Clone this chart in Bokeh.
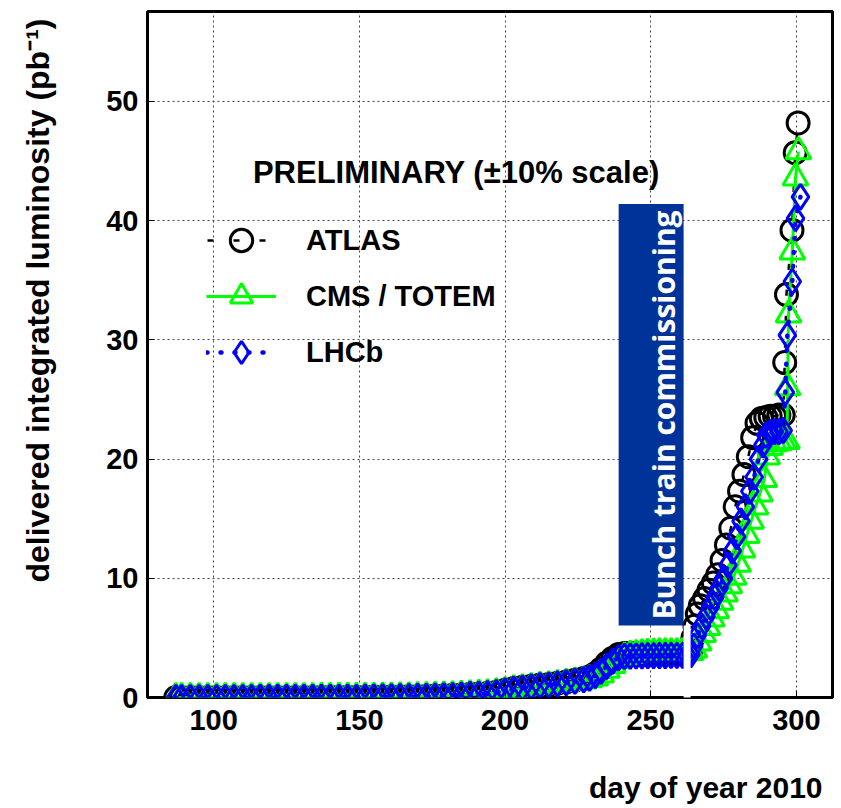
import math
from bokeh.plotting import figure
from bokeh.models import FixedTicker, Range1d, Label, BoxAnnotation, Legend, LegendItem, Title
from bokeh.embed import file_html
from bokeh.resources import INLINE

# ---------------- data ----------------
days_base = [87, 89, 92, 95, 98, 101, 104, 107, 110, 113, 116, 119, 122, 125, 128, 131,
             134, 137, 140, 143, 146, 149, 152, 155, 158, 161, 164, 167, 170, 173, 176,
             179, 182, 185, 188, 191, 194, 197,
             200, 203, 206, 209, 212, 215, 218, 221, 224, 227, 229, 231, 233, 235, 237, 239, 241,
             243, 245, 247, 249, 251, 253, 255, 257, 259, 261, 262.5]

atlas_base = [0.0, 0.0, 0.0, 0.0, 0.0, 0.0, 0.0, 0.0, 0.0, 0.0,
              0.01, 0.01, 0.01, 0.01, 0.01, 0.01, 0.01,
              0.02, 0.02, 0.02, 0.02, 0.02,
              0.03, 0.04, 0.05, 0.06, 0.07, 0.08, 0.09, 0.10, 0.12, 0.15, 0.18, 0.22, 0.27, 0.30, 0.35, 0.45,
              0.60, 0.75, 0.85, 0.95, 1.05, 1.10, 1.20, 1.30, 1.45, 1.60, 1.75, 2.00, 2.40, 2.90, 3.30, 3.60, 3.70,
              3.70, 3.70, 3.71, 3.71, 3.72, 3.72, 3.72, 3.73, 3.73, 3.73, 3.74]

cms_base = [0.0, 0.0, 0.0, 0.0, 0.0, 0.0, 0.0, 0.0, 0.0, 0.0,
            0.01, 0.01, 0.01, 0.01, 0.01, 0.01, 0.01,
            0.02, 0.02, 0.02, 0.02, 0.02,
            0.03, 0.03, 0.04, 0.05, 0.06, 0.07, 0.08, 0.09, 0.11, 0.13, 0.16, 0.20, 0.24, 0.27, 0.31, 0.40,
            0.50, 0.65, 0.75, 0.85, 0.95, 1.00, 1.10, 1.20, 1.30, 1.40, 1.50, 1.65, 1.90, 2.30, 2.70, 3.10, 3.40,
            3.55, 3.62, 3.68, 3.72, 3.74, 3.75, 3.75, 3.76, 3.76, 3.77, 3.77]

lhcb_base = [0.0, 0.0, 0.0, 0.0, 0.0, 0.0, 0.0, 0.0, 0.0, 0.0,
             0.01, 0.01, 0.01, 0.01, 0.01, 0.01, 0.01,
             0.02, 0.02, 0.02, 0.02, 0.02,
             0.03, 0.04, 0.05, 0.06, 0.07, 0.08, 0.09, 0.10, 0.12, 0.14, 0.17, 0.21, 0.26, 0.29, 0.33, 0.42,
             0.55, 0.70, 0.80, 0.90, 1.00, 1.05, 1.15, 1.25, 1.38, 1.50, 1.62, 1.85, 2.20, 2.65, 3.05, 3.35, 3.45,
             3.47, 3.48, 3.49, 3.50, 3.50, 3.51, 3.51, 3.52, 3.52, 3.53, 3.53]

atlas_tail_days = [263.8, 264.5, 265.2, 266.0, 267.0, 268.5, 270.0, 271.5, 273.0, 274.5, 276.0,
                   277.5, 279.0, 280.5, 282.0, 283.5, 285.0, 286.5, 288.0, 289.5, 291.0, 292.5,
                   294.0, 295.5, 296.0, 296.6, 298.5, 299.6, 300.6]
atlas_tail = [4.0, 5.0, 6.0, 7.0, 7.7, 8.3, 9.0, 9.6, 10.3, 11.5, 12.8, 14.2, 16.0, 17.3, 18.7,
              20.2, 21.8, 23.0, 23.4, 23.5, 23.6, 23.6, 23.7, 23.7, 28.1, 33.8, 39.2, 45.7, 48.2]

cms_tail_days = [263.8, 265.0, 266.5, 268.0, 269.5, 271.0, 272.5, 274.0, 275.5, 277.0, 278.5,
                 280.0, 281.5, 283.0, 284.5, 286.0, 287.5, 289.0, 290.0, 291.0, 292.5, 294.0,
                 295.5, 296.8, 297.0, 297.3, 298.6, 299.7, 300.7]
cms_tail = [3.8, 4.0, 4.6, 5.3, 5.9, 6.6, 7.3, 8.0, 8.7, 9.4, 10.1, 11.2, 12.4, 13.6, 14.8, 16.0,
            17.1, 18.3, 20.2, 21.0, 21.3, 21.4, 21.5, 21.5, 26.0, 32.1, 37.4, 43.6, 45.8]

lhcb_tail_days = [263.8, 264.8, 266.0, 267.5, 269.0, 270.5, 272.0, 273.5, 275.0, 276.5, 278.0,
                  279.5, 281.0, 282.5, 284.0, 285.5, 287.0, 288.5, 289.5, 291.0, 292.5, 294.0,
                  295.5, 296.2, 296.9, 298.6, 299.7, 301.4]
lhcb_tail = [3.6, 4.3, 5.2, 6.0, 6.8, 7.6, 8.4, 9.2, 10.0, 11.1, 12.3, 13.5, 14.8, 16.0, 17.3,
             18.5, 20.0, 21.2, 22.0, 22.2, 22.3, 22.3, 22.4, 25.6, 30.4, 34.9, 40.2, 42.0]

series_names = ["ATLAS", "CMS / TOTEM", "LHCb"]
x_ticks = [100, 150, 200, 250, 300]
y_ticks = [0, 10, 20, 30, 40, 50]

# ---------------- figure ----------------
FONT = "Liberation Sans"
p = figure(width=840, height=806, output_backend="svg", toolbar_location=None,
           x_range=Range1d(77.3, 312.4), y_range=Range1d(0, 57.55),
           min_border_left=147, min_border_right=8, min_border_top=11, min_border_bottom=109)
p.background_fill_color = "white"
p.border_fill_color = "white"
p.outline_line_color = "black"
p.outline_line_width = 3

for ax in (p.xaxis[0], p.yaxis[0]):
    ax.axis_line_color = None
    ax.major_tick_in = 7
    ax.major_tick_out = 0
    ax.minor_tick_line_color = None
    ax.major_tick_line_color = "black"
    ax.major_label_text_font = FONT
    ax.major_label_text_font_style = "bold"
    ax.major_label_text_font_size = "29px"
    ax.major_label_text_color = "black"
    # blank spacer label: pushes the side titles outward
    ax.axis_label = " "
    ax.axis_label_text_font_size = "10px"
p.xaxis.ticker = FixedTicker(ticks=x_ticks)
p.yaxis.ticker = FixedTicker(ticks=y_ticks)
p.xaxis.major_label_standoff = 12
p.yaxis.major_label_standoff = 9
p.xaxis.axis_label_standoff = 22
p.yaxis.axis_label_standoff = 34

p.grid.grid_line_color = "#444444"
p.grid.grid_line_dash = "2 3"
p.grid.grid_line_width = 1

atlas_x = days_base + atlas_tail_days
atlas_y = atlas_base + atlas_tail
cms_x = days_base + cms_tail_days
cms_y = cms_base + cms_tail
lhcb_x = days_base + lhcb_tail_days
lhcb_y = lhcb_base + lhcb_tail

la = p.line(atlas_x, atlas_y, line_color="black", line_width=2.5, line_dash="6 20",
            line_dash_offset=-1)
sa = p.scatter(atlas_x, atlas_y, marker="circle", size=22, fill_color=None,
               line_color="black", line_width=3)
lc = p.line(cms_x, cms_y, line_color="#00ff00", line_width=3)
sc = p.scatter(cms_x, cms_y, marker="triangle", size=25, fill_color=None,
               line_color="#00ff00", line_width=3)
ll = p.line(lhcb_x, lhcb_y, line_color="#0000ff", line_width=4.5, line_dash="1 13",
            line_cap="round")
sl = p.scatter(lhcb_x, lhcb_y, marker="diamond", size=25, fill_color=None,
               line_color="#0000ff", line_width=3)

# annotation box
p.add_layout(BoxAnnotation(left=239.0, right=261.3, bottom=6.04, top=41.4,
                           fill_color="#003399", fill_alpha=1.0, line_color=None))
p.add_layout(BoxAnnotation(left=261.3, right=263.7, bottom=-1.0, top=6.04,
                           fill_color="white", fill_alpha=1.0, line_color=None, level="overlay"))
p.add_layout(Label(x=254.4, y=23.7, text="Bunch train commissioning", angle=math.pi / 2,
                   text_align="center", text_baseline="alphabetic", text_color="white",
                   text_font="Open Sans", text_font_style="bold", text_font_size="30px"))

# header text
p.add_layout(Label(x=183.3, y=44.07, text="PRELIMINARY (\u00b110% scale)",
                   text_align="center", text_baseline="alphabetic", text_color="black",
                   text_font=FONT, text_font_style="bold", text_font_size="31px"))

# axis titles as side titles
p.add_layout(Title(text="delivered integrated luminosity (pb\u207b\u00b9)", align="left",
                   offset=115, standoff=0, text_font=FONT, text_font_style="bold",
                   text_font_size="32px", text_color="black"), "left")
p.add_layout(Title(text="day of year 2010", align="right", offset=10, standoff=0,
                   text_font=FONT, text_font_style="bold", text_font_size="30px",
                   text_color="black"), "below")

legend = Legend(items=[LegendItem(label=series_names[0], renderers=[la, sa]),
                       LegendItem(label=series_names[1], renderers=[lc, sc]),
                       LegendItem(label=series_names[2], renderers=[ll, sl])],
                location=(59, 317), orientation="vertical", glyph_width=70, glyph_height=56,
                label_height=56, label_standoff=30, spacing=0, padding=0, margin=0,
                border_line_color=None, background_fill_alpha=0.0,
                label_text_font=FONT, label_text_font_style="bold",
                label_text_font_size="29px", label_text_color="black")
p.add_layout(legend)

open("out.html", "w").write(file_html(p, INLINE))
